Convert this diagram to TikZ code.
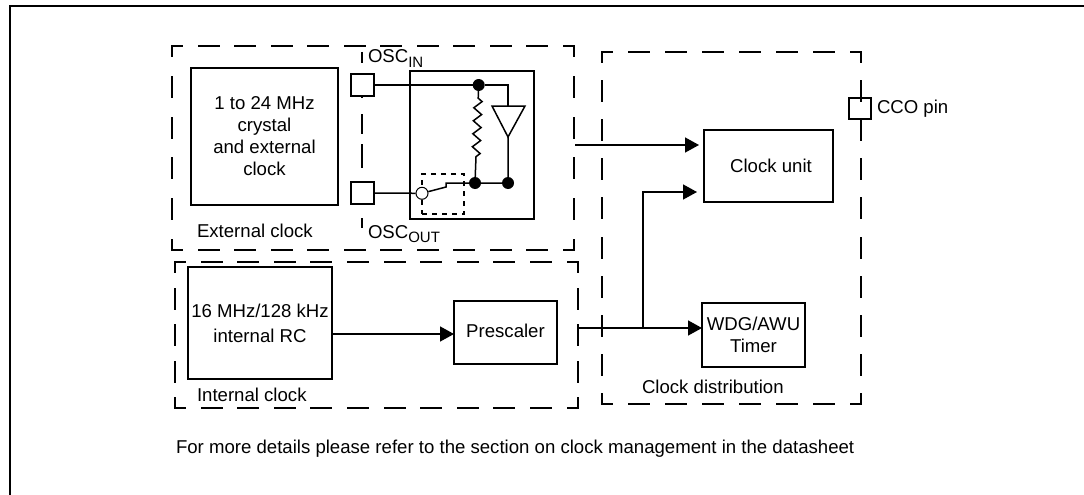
\documentclass[tikz,border=0pt]{standalone}
\usepackage{fontspec}
\setmainfont{Liberation Sans}
\usetikzlibrary{arrows.meta,decorations.pathmorphing}
\newcommand{\oscsub}[1]{\raisebox{-4.5pt}{\fontsize{15}{15}\selectfont #1}}
\newcommand{\groupsides}[3]{
  \draw[sidedash, dash pattern=on 20.5pt off #2pt] (#1.north west) -- (#1.north east);
  \draw[sidedash, dash pattern=on 20.5pt off #2pt] (#1.south west) -- (#1.south east);
  \draw[sidedash, dash pattern=on 20.5pt off #3pt] (#1.north west) -- (#1.south west);
  \draw[sidedash, dash pattern=on 20.5pt off #3pt] (#1.north east) -- (#1.south east);
}
\tikzset{
  blockbox/.style={draw, line width=1.5pt, inner sep=0pt, outer sep=0pt, align=center},
  groupbox/.style={inner sep=0pt, outer sep=0pt},
  sidedash/.style={line width=1.5pt, line cap=rect, dash phase=10.25pt},
  dotnode/.style={circle, fill=black, inner sep=0pt, minimum size=12pt},
  wire/.style={line width=1.5pt},
  arrowwire/.style={line width=1.5pt, -{Triangle[length=14pt,width=15pt]}},
  txt/.style={inner sep=0pt, outer sep=0pt, align=center}
}
\begin{document}
\begin{tikzpicture}[x=1pt, y=-1pt, font=\fontsize{18.6}{22}\selectfont]
      \useasboundingbox (0,0) rectangle (1084,495);
      \draw[line width=2pt] (1084,6.5) -- (10,6.5) -- (10,495);
      \node[groupbox, minimum width=402pt, minimum height=204pt] (ext) at (373,148) {};
      \node[groupbox, minimum width=403pt, minimum height=146pt] (int) at (376.5,335) {};
      \node[groupbox, minimum width=259pt, minimum height=352pt] (dist) at (731.5,228) {};
      \groupsides{ext}{16}{20.3}
      \groupsides{int}{16.1}{16}
      \groupsides{dist}{16.5}{18.6}
      \coordinate (sp1) at (362,52); \coordinate (sp2) at (362,228);
      \draw[line width=1.5pt, dash pattern=on 11pt off 34pt on 1pt off 16pt on 20pt off 10pt on 24pt off 50pt on 11pt] (sp1) -- (sp2);
      \node[blockbox, minimum width=147pt, minimum height=137pt] (xtal) at (264.5,136.5) {1 to 24 MHz\\crystal\\and external\\clock};
      \node[blockbox, minimum width=144pt, minimum height=112pt] (rc) at (260,323) {16 MHz/128 kHz\\[3pt]internal RC};
      \node[blockbox, minimum width=103pt, minimum height=63pt] (pre) at (505.5,332.5) {\raisebox{2.5pt}{Prescaler}};
      \node[blockbox, minimum width=129pt, minimum height=72pt] (cu) at (768.5,166) {\hspace*{5pt}Clock unit};
      \node[blockbox, minimum width=103pt, minimum height=64pt] (wdg) at (753.5,335) {WDG/AWU\\Timer};
      \node[blockbox, minimum width=23pt, minimum height=22pt] (oscin) at (362.5,85) {};
      \node[blockbox, minimum width=23pt, minimum height=22pt] (oscout) at (362.5,193) {};
      \node[blockbox, minimum width=22pt, minimum height=21pt] (cco) at (860,108.5) {};
      \node[blockbox, minimum width=124pt, minimum height=148pt] (osc) at (472,145) {};
      \node[txt, anchor=west] (lblext) at (197,231) {External clock};
      \node[txt, anchor=west] (lblint) at (197,395) {Internal clock};
      \node[txt, anchor=west] (lbldist) at (642,387) {Clock distribution};
      \node[txt, anchor=west] (lblcco) at (877,109) {CCO pin};
      \node[txt, anchor=base west] (lblin) at (368,63) {OSC\oscsub{IN}};
      \node[txt, anchor=base west] (lblout) at (368,238) {OSC\oscsub{OUT}};
      \node[txt, anchor=west] (note) at (176,449) {For more details please refer to the section on clock management in the datasheet};
      \node[dotnode] (d1) at (478.7,85) {};
      \node[dotnode] (d2) at (475,183) {};
      \node[dotnode] (d3) at (508,183) {};
      \node[draw, dash pattern=on 5pt off 5pt, line width=1.5pt, minimum width=42pt, minimum height=40pt, inner sep=0pt] (swbox) at (443,194) {};
      \node[draw, circle, fill=white, line width=1pt, minimum size=12pt, inner sep=0pt] (sw) at (422,193.3) {};
      \coordinate (buftop) at (508,106); \coordinate (buftip) at (508,137);
      \coordinate (sw1) at (446,187); \coordinate (sw2) at (446,183);
      \coordinate (ein) at (575,145); \coordinate (pout) at (577,328); \coordinate (bj) at (643,328);
      \draw[wire] (oscin) -- (d1) -- (508,85) -- (buftop);
      \draw[wire] (492,106) -- (525,106) -- (buftip) -- cycle;
      \draw[wire] (buftip) -- (d3) -- (d2) -- (sw2) -- (sw1) -- (sw);
      \draw[wire] (oscout) -- (sw);
      \draw[wire, decorate, decoration={zigzag, segment length=13pt, amplitude=4pt, pre length=7pt, post length=20pt}] (d1) -- (d2);
      \draw[arrowwire] (rc.east |- 0,334) -- (pre.west |- 0,334);
      \draw[arrowwire, shorten >=5pt] (ein) -- (ein -| cu.west);
      \draw[arrowwire] (pout) -- (pout -| wdg.west);
      \draw[arrowwire, shorten >=7pt] (bj) |- (cu.west |- 0,192);
    \end{tikzpicture}
\end{document}
